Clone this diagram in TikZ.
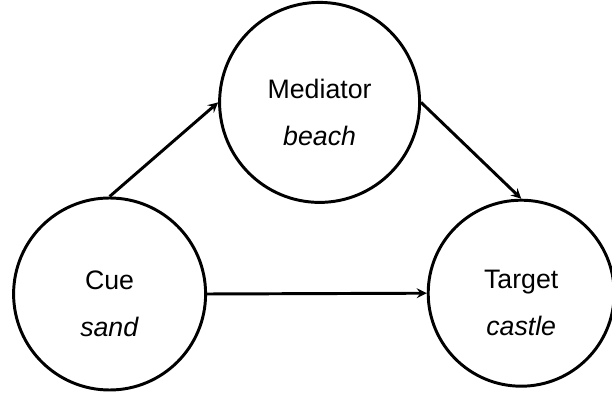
\documentclass[tikz,border=0pt]{standalone}
\usepackage{tikz}
\usepackage{xcolor}
\usepackage{fontspec}
\setmainfont{Liberation Sans}
\usetikzlibrary{shapes.geometric, arrows}
\tikzstyle{concept} = [circle, draw=black, line width=2.1pt, align=center, font=\fontsize{19}{33.5}\selectfont, text height=2.3cm, text depth=0.16cm]
\tikzstyle{arrow} = [line width=2.1pt,->,>=stealth]

\begin{document}
\begin{tikzpicture}
    \useasboundingbox (0,0) rectangle (15.3,-9.825);
    \node (cue) [concept, minimum size=4.8cm] at (2.74,-7.35) {Cue \\ \textit{sand}};
    \node (mediator) [concept, minimum size=5cm] at (7.99,-2.56) {Mediator \\ \textit{beach}};
    \node (target) [concept, minimum size=4.65cm] at (13.03,-7.33) {Target \\ \textit{castle}};

    \draw [arrow] (cue.north) -- (mediator.west);
    \draw [arrow] (mediator.east) -- (target.north);
    \draw [arrow] (cue.east) -- (target.west);
\end{tikzpicture}
\end{document}
